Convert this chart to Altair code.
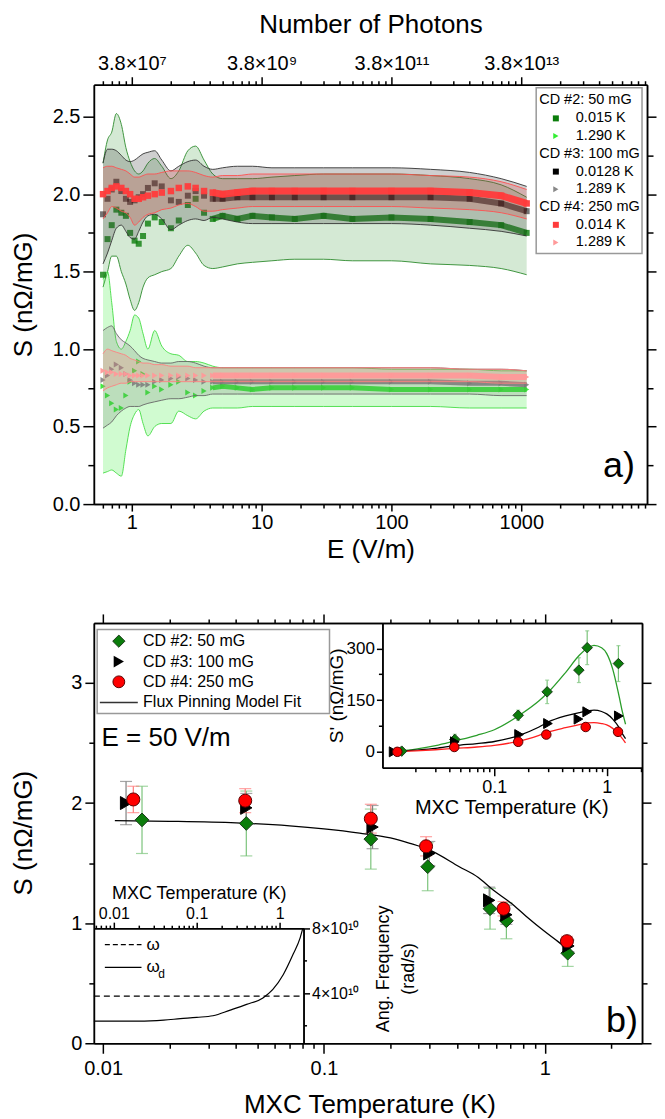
import altair as alt
import pandas as pd

FONT = "Liberation Sans"

# ------------------------------------------------------------------ panel a) data
E_GRID = [0.6, 0.65, 0.7, 0.76, 0.83, 0.9, 0.97, 1.05, 1.13, 1.22, 1.33, 1.5, 1.7, 2.0, 2.3, 2.7,
          3.1, 3.6, 4.2, 5.0, 6.5, 8.5, 12, 18, 30, 50, 100, 200, 400, 700, 1100]

# CD #2 0.015 K
A_MEAN = [1.48, 1.71, 1.80, 1.90, 1.88, 1.86, 1.75, 1.70, 1.68, 1.73, 1.81, 1.85, 1.82, 1.78, 1.83, 1.93,
          1.97, 1.88, 1.84, 1.86, 1.84, 1.86, 1.85, 1.84, 1.86, 1.84, 1.85, 1.84, 1.82, 1.80, 1.75]
A_HI = [2.20, 2.35, 2.40, 2.52, 2.45, 2.30, 2.21, 2.15, 2.13, 2.15, 2.20, 2.23, 2.18, 2.10, 2.15, 2.28,
        2.31, 2.22, 2.13, 2.10, 2.10, 2.10, 2.11, 2.12, 2.13, 2.13, 2.13, 2.12, 2.10, 2.06, 1.98]
A_LO = [1.40, 1.50, 1.60, 1.60, 1.50, 1.42, 1.32, 1.25, 1.30, 1.40, 1.46, 1.48, 1.50, 1.52, 1.60, 1.67,
        1.62, 1.54, 1.52, 1.53, 1.55, 1.56, 1.57, 1.58, 1.58, 1.57, 1.57, 1.55, 1.54, 1.52, 1.48]
# CD #3 0.0128 K
B_MEAN = [1.87, 1.97, 2.03, 2.08, 2.02, 1.97, 1.95, 1.96, 1.98, 2.00, 2.04, 2.07, 2.05, 1.96, 1.95, 1.99,
          2.02, 1.99, 1.97, 1.97, 1.98, 1.98, 1.98, 1.98, 1.98, 1.98, 1.98, 1.98, 1.97, 1.94, 1.89]
B_HI = [2.20, 2.29, 2.29, 2.28, 2.25, 2.22, 2.21, 2.22, 2.24, 2.26, 2.27, 2.28, 2.22, 2.15, 2.18, 2.21,
        2.22, 2.18, 2.16, 2.17, 2.18, 2.18, 2.17, 2.17, 2.17, 2.17, 2.17, 2.16, 2.14, 2.10, 2.05]
B_LO = [1.55, 1.62, 1.70, 1.78, 1.80, 1.76, 1.72, 1.71, 1.76, 1.82, 1.86, 1.87, 1.84, 1.77, 1.80, 1.83,
        1.84, 1.83, 1.85, 1.84, 1.82, 1.81, 1.81, 1.81, 1.81, 1.81, 1.81, 1.80, 1.78, 1.76, 1.73]
# CD #4 0.014 K
C_MEAN = [2.00, 2.02, 2.04, 2.05, 2.04, 2.02, 2.00, 1.97, 1.97, 1.98, 1.99, 2.00, 2.01, 2.02, 2.04, 2.05,
          2.04, 2.02, 2.01, 2.00, 2.01, 2.02, 2.02, 2.02, 2.02, 2.02, 2.02, 2.02, 2.01, 1.99, 1.94]
C_HI = [2.17, 2.18, 2.18, 2.17, 2.16, 2.15, 2.13, 2.11, 2.11, 2.12, 2.13, 2.13, 2.14, 2.15, 2.15, 2.15,
        2.14, 2.12, 2.11, 2.12, 2.12, 2.13, 2.13, 2.13, 2.13, 2.13, 2.13, 2.12, 2.11, 2.08, 2.03]
C_LO = [1.84, 1.88, 1.92, 1.91, 1.89, 1.88, 1.85, 1.80, 1.82, 1.85, 1.87, 1.88, 1.90, 1.91, 1.93, 1.94,
        1.92, 1.89, 1.89, 1.90, 1.91, 1.92, 1.92, 1.92, 1.92, 1.92, 1.92, 1.91, 1.90, 1.88, 1.84]
# CD #2 1.290 K
D_MEAN = [0.76, 0.70, 0.65, 0.61, 0.62, 0.70, 0.79, 0.86, 0.92, 0.84, 0.72, 0.76, 0.74, 0.77, 0.79, 0.72,
          0.70, 0.73, 0.75, 0.76, 0.75, 0.74, 0.75, 0.75, 0.75, 0.75, 0.74, 0.74, 0.74, 0.74, 0.74]
D_HI = [1.45, 1.50, 1.30, 1.05, 1.00, 1.05, 1.12, 1.22, 1.20, 1.10, 1.00, 1.12, 1.02, 0.97, 0.96, 0.92,
        0.92, 0.91, 0.89, 0.88, 0.88, 0.88, 0.88, 0.88, 0.88, 0.88, 0.87, 0.87, 0.87, 0.86, 0.86]
D_LO = [0.20, 0.21, 0.22, 0.20, 0.18, 0.35, 0.50, 0.58, 0.61, 0.52, 0.44, 0.50, 0.52, 0.52, 0.60, 0.57,
        0.55, 0.60, 0.62, 0.62, 0.62, 0.63, 0.63, 0.63, 0.63, 0.63, 0.63, 0.63, 0.62, 0.62, 0.62]
# CD #3 1.289 K
E_MEAN = [0.80, 0.83, 0.87, 0.90, 0.88, 0.84, 0.80, 0.78, 0.77, 0.77, 0.77, 0.79, 0.80, 0.81, 0.82, 0.81,
          0.80, 0.79, 0.79, 0.79, 0.79, 0.79, 0.79, 0.79, 0.79, 0.79, 0.79, 0.79, 0.78, 0.78, 0.77]
E_HI = [1.12, 1.14, 1.15, 1.10, 1.06, 1.04, 1.02, 0.99, 0.96, 0.94, 0.93, 0.92, 0.91, 0.91, 0.92, 0.92,
        0.91, 0.89, 0.88, 0.88, 0.88, 0.88, 0.88, 0.88, 0.88, 0.88, 0.88, 0.88, 0.87, 0.87, 0.86]
E_LO = [0.49, 0.51, 0.53, 0.57, 0.60, 0.62, 0.63, 0.63, 0.63, 0.64, 0.65, 0.66, 0.67, 0.68, 0.68, 0.69,
        0.70, 0.70, 0.71, 0.71, 0.71, 0.71, 0.71, 0.71, 0.71, 0.71, 0.71, 0.71, 0.71, 0.70, 0.70]
# CD #4 1.289 K
F_MEAN = [0.86, 0.85, 0.85, 0.84, 0.84, 0.84, 0.83, 0.83, 0.83, 0.83, 0.83, 0.83, 0.83, 0.83, 0.83, 0.83,
          0.83, 0.83, 0.83, 0.83, 0.83, 0.83, 0.83, 0.83, 0.83, 0.83, 0.83, 0.83, 0.83, 0.82, 0.82]
F_HI = [0.97, 1.00, 0.99, 0.98, 0.97, 0.96, 0.94, 0.93, 0.92, 0.91, 0.91, 0.90, 0.90, 0.89, 0.89, 0.89,
        0.88, 0.88, 0.88, 0.88, 0.88, 0.88, 0.88, 0.88, 0.88, 0.88, 0.88, 0.88, 0.87, 0.87, 0.86]
F_LO = [0.73, 0.75, 0.76, 0.77, 0.78, 0.78, 0.79, 0.79, 0.79, 0.79, 0.79, 0.79, 0.79, 0.79, 0.79, 0.79,
        0.79, 0.79, 0.79, 0.79, 0.79, 0.79, 0.79, 0.79, 0.79, 0.79, 0.79, 0.79, 0.79, 0.78, 0.78]

E_MAJOR = [1, 10, 100, 1000]
E_MINOR = [0.6, 0.7, 0.8, 0.9, 2, 3, 4, 5, 6, 7, 8, 9, 20, 30, 40, 50, 60, 70, 80, 90,
           200, 300, 400, 500, 600, 700, 800, 900, 2000, 3000, 4000, 5000, 6000, 7000, 8000, 9000]
S_MAJOR_A = [0, 0.5, 1.0, 1.5, 2.0, 2.5]
S_MINOR_A = [0.25, 0.75, 1.25, 1.75, 2.25]

# ------------------------------------------------------------------ panel b) data
T_CD2 = [0.0150, 0.0445, 0.163, 0.295, 0.565, 0.67, 1.27]
S_CD2 = [1.86, 1.83, 1.70, 1.47, 1.12, 1.02, 0.75]
ERR_CD2 = [0.28, 0.27, 0.25, 0.20, 0.17, 0.15, 0.11]
SP_CD2 = [2, 36, 106, 174, 237, 302, 256]
SPERR_CD2 = [6, 15, 15, 34, 36, 49, 52]

T_CD3 = [0.0127, 0.0445, 0.166, 0.30, 0.56, 0.67, 1.28]
S_CD3 = [2.00, 1.96, 1.80, 1.58, 1.19, 1.07, 0.81]
ERR_CD3 = [0.18, 0.12, 0.18, 0.10, 0.11, 0.08, 0.05]
SP_CD3 = [0, 29, 50, 82, 95, 116, 104]

T_CD4 = [0.0137, 0.0440, 0.163, 0.29, 0.65, 1.26]
S_CD4 = [2.03, 2.02, 1.87, 1.64, 1.12, 0.85]
ERR_CD4 = [0.11, 0.10, 0.12, 0.08, 0.06, 0.04]
SP_CD4 = [0, 14, 29, 50, 72, 58]

FIT_T = [0.0113, 0.02, 0.04, 0.07, 0.1, 0.145, 0.2, 0.245, 0.3, 0.41, 0.5, 0.58, 0.7, 0.82, 1.0, 1.16, 1.27]
FIT_S = [1.853, 1.848, 1.835, 1.81, 1.785, 1.75, 1.71, 1.665, 1.61, 1.47, 1.38, 1.28, 1.17, 1.06, 0.93, 0.84, 0.78]

FIT_TI = [0.012, 0.02, 0.03, 0.045, 0.07, 0.1, 0.167, 0.25, 0.3, 0.43, 0.57, 0.68, 0.77, 0.9, 1.0, 1.13, 1.29, 1.38, 1.47]
FIT_G = [0, 8, 18, 32, 48, 64, 106, 148, 172, 230, 280, 302, 309, 302, 285, 240, 160, 115, 80]
FIT_K = [0, 5, 10, 18, 24, 30, 48, 72, 86, 104, 114, 119, 121, 117, 110, 95, 70, 52, 38]
FIT_R = [0, 3, 6, 10, 14, 19, 31, 48, 57, 70, 79, 84, 85, 82, 78, 68, 50, 38, 26]

W_T = [0.00574, 0.02, 0.04, 0.0636, 0.1, 0.157, 0.254, 0.40, 0.63, 0.83, 1.11, 1.46, 1.77, 1.91]
W_D = [2.27e10, 2.27e10, 2.33e10, 2.42e10, 2.50e10, 2.60e10, 2.95e10, 3.30e10, 3.70e10, 4.22e10,
       5.14e10, 6.40e10, 7.40e10, 8.00e10]
OMEGA_T = [0.00574, 1.946]
OMEGA = [3.81e10, 3.81e10]

T_MAJOR = [0.01, 0.1, 1]
T_MINOR = [0.02, 0.03, 0.04, 0.05, 0.06, 0.07, 0.08, 0.09, 0.2, 0.3, 0.4, 0.5, 0.6, 0.7, 0.8, 0.9, 2]

# ------------------------------------------------------------------ geometry
WA, HA = 554, 420
WB, HB = 549, 421

dummy = pd.DataFrame({"x": [1.0], "y": [1.0]})


def lg(dom, rng):
    return alt.Scale(type="log", domain=dom, range=rng, nice=False)


def ln(dom, rng):
    return alt.Scale(type="linear", domain=dom, range=rng, nice=False, zero=False)


XA = lambda: lg([0.51, 9300], [0, WA])
YA = lambda: ln([0, 2.706], [HA, 0])
XB = lambda: lg([0.00908, 2.756], [0, WB])
YB = lambda: ln([0, 3.5], [HB, 0])
XI1 = lambda: lg([0.0101, 2.06], [289, 549])
YI1 = lambda: ln([-46, 374], [145, 0])
XI2 = lambda: lg([0.00574, 1.946], [0, 210])
YI2 = lambda: ln([0.905e10, 8e10], [421, 305.7])


def axis_layer(xs, ys, xaxis=None, yaxis=None):
    return alt.Chart(dummy).mark_point(opacity=0, size=1).encode(
        x=alt.X("x:Q", scale=xs, axis=xaxis),
        y=alt.Y("y:Q", scale=ys, axis=yaxis),
    )


def txt(s, x, y, size, align="left", baseline="middle", color="black"):
    return alt.Chart(dummy).mark_text(text=s, align=align, baseline=baseline, fontSize=size,
                                      font=FONT, color=color).encode(x=alt.value(x), y=alt.value(y))


def sym(shape, x, y, size, fill, stroke=None, sw=0.0):
    kw = dict(shape=shape, filled=True, size=size, fill=fill, opacity=1)
    if stroke:
        kw.update(stroke=stroke, strokeWidth=sw)
    return alt.Chart(dummy).mark_point(**kw).encode(x=alt.value(x), y=alt.value(y))


# ------------------------------------------------------------------ panel a)
def series(mean, lo, hi, fill, fop, edge, mcol, mop, shape, msize, lw):
    df = pd.DataFrame({"E": E_GRID, "m": mean, "lo": lo, "hi": hi})
    base = alt.Chart(df)
    band = base.mark_area(color=fill, opacity=fop, interpolate="monotone").encode(
        x=alt.X("E:Q", scale=XA(), axis=None), y=alt.Y("lo:Q", scale=YA(), axis=None), y2="hi:Q")
    up = base.mark_line(color=edge, strokeWidth=0.9, interpolate="monotone").encode(
        x=alt.X("E:Q", scale=XA(), axis=None), y=alt.Y("hi:Q", scale=YA(), axis=None))
    dn = base.mark_line(color=edge, strokeWidth=0.9, interpolate="monotone").encode(
        x=alt.X("E:Q", scale=XA(), axis=None), y=alt.Y("lo:Q", scale=YA(), axis=None))
    line = base.transform_filter("datum.E >= 4").mark_line(color=mcol, opacity=mop, strokeWidth=lw).encode(
        x=alt.X("E:Q", scale=XA(), axis=None), y=alt.Y("m:Q", scale=YA(), axis=None))
    pts = base.mark_point(shape=shape, filled=True, size=msize, color=mcol, opacity=mop).encode(
        x=alt.X("E:Q", scale=XA(), axis=None), y=alt.Y("m:Q", scale=YA(), axis=None))
    return [band, up, dn], [line, pts]


sA = series(A_MEAN, A_LO, A_HI, "#3a9a3a", 0.22, "#2e8b2e", "#0b7d0b", 0.8, "square", 36, 6)
sD = series(D_MEAN, D_LO, D_HI, "#44ee44", 0.25, "#44dd44", "#2ee82e", 0.9, "triangle-right", 36, 5)
sB = series(B_MEAN, B_LO, B_HI, "#404040", 0.25, "#333333", "#000000", 0.55, "square", 36, 6)
sE = series(E_MEAN, E_LO, E_HI, "#707070", 0.2, "#666666", "#7a7a7a", 0.85, "triangle-right", 36, 5)
sC = series(C_MEAN, C_LO, C_HI, "#e04040", 0.22, "#ff5050", "#ff3b3b", 0.95, "square", 42, 7)
sF = series(F_MEAN, F_LO, F_HI, "#ff8080", 0.25, "#ff8080", "#ff9999", 0.95, "triangle-right", 36, 6)

layersA = []
for grp in [(sA, sD), (sB, sE), (sC, sF)]:
    layersA += grp[0][0] + grp[1][0] + grp[0][1] + grp[1][1]

layersA += [
    axis_layer(XA(), YA(),
               xaxis=alt.Axis(orient="bottom", values=E_MAJOR, tickSize=7, format="~g", labelFontSize=20,
                              labelPadding=1, title="E (V/m)", titleFontSize=26, titleX=WA / 2, titleY=45,
                              titleBaseline="middle", titleAlign="center"),
               yaxis=alt.Axis(orient="left", values=S_MAJOR_A, tickSize=11, format=".1f", labelFontSize=20,
                              labelPadding=3, title="S (nΩ/mG)", titleFontSize=26, titleX=-70, titleY=HA / 2,
                              titleAngle=270, titleBaseline="middle", titleAlign="center")),
    axis_layer(XA(), YA(),
               xaxis=alt.Axis(orient="bottom", values=E_MINOR, tickSize=4, labels=False, title=None),
               yaxis=alt.Axis(orient="left", values=S_MINOR_A, tickSize=6, labels=False, title=None)),
    axis_layer(XA(), YA(),
               xaxis=alt.Axis(orient="top", values=E_MAJOR, tickSize=8, labelFontSize=20, labelPadding=3,
                              labelExpr="datum.value < 5 ? '3.8×10⁷' : datum.value < 50 ? '3.8×10⁹' : "
                                        "datum.value < 500 ? '3.8×10¹¹' : '3.8×10¹³'",
                              title="Number of Photons", titleFontSize=26, titleX=WA / 2, titleY=-60,
                              titleBaseline="middle", titleAlign="center"),
               yaxis=alt.Axis(orient="right", values=S_MAJOR_A, tickSize=9, labels=False, title=None)),
    axis_layer(XA(), YA(),
               xaxis=alt.Axis(orient="top", values=E_MINOR, tickSize=4, labels=False, title=None),
               yaxis=alt.Axis(orient="right", values=S_MINOR_A, tickSize=6, labels=False, title=None)),
]

# legend of panel a)
LEG_ROWS = [15.3, 33.7, 51.3, 69.3, 87, 104.7, 122.7, 140.3, 158]
layersA.append(alt.Chart(dummy).mark_rect(fill="white", stroke="#999999", strokeWidth=1.5).encode(
    x=alt.value(443), x2=alt.value(549), y=alt.value(3), y2=alt.value(169)))
leg_items = [
    ("h", "CD #2: 50 mG", None, None),
    ("s", "0.015 K", "square", "#0b7d0b"),
    ("s", "1.290 K", "triangle-right", "#33ee33"),
    ("h", "CD #3: 100 mG", None, None),
    ("s", "0.0128 K", "square", "#000000"),
    ("s", "1.289 K", "triangle-right", "#888888"),
    ("h", "CD #4: 250 mG", None, None),
    ("s", "0.014 K", "square", "#ff3b3b"),
    ("s", "1.289 K", "triangle-right", "#ff9a9a"),
]
for (kind, label, shp, col), yy in zip(leg_items, LEG_ROWS):
    if kind == "h":
        layersA.append(txt(label, 446, yy, 14.5))
    else:
        layersA.append(sym(shp, 462.7, yy, 36, col))
        layersA.append(txt(label, 482.7, yy, 14.5))
layersA.append(txt("a)", 526, 382, 36, align="center"))

panelA = alt.layer(*layersA).properties(width=WA, height=HA).resolve_scale(x="independent", y="independent")

# ------------------------------------------------------------------ panel b)
def main_df(T, S, ERR):
    return pd.DataFrame({"T": T, "S": S, "lo": [s - e for s, e in zip(S, ERR)], "hi": [s + e for s, e in zip(S, ERR)]})


def errbars(df, xs, ys, col, cap=12, caps=True):
    out = [alt.Chart(df).mark_rule(color=col, strokeWidth=1.2).encode(
        x=alt.X("T:Q", scale=xs(), axis=None), y=alt.Y("lo:Q", scale=ys(), axis=None), y2="hi:Q")]
    if caps:
        for f in ["lo", "hi"]:
            out.append(alt.Chart(df).mark_tick(orient="horizontal", size=cap, thickness=1.2, color=col).encode(
                x=alt.X("T:Q", scale=xs(), axis=None), y=alt.Y(f + ":Q", scale=ys(), axis=None)))
    return out


def markers(df, xs, ys, field, shape, fill, size, stroke):
    return alt.Chart(df).mark_point(shape=shape, filled=True, size=size, fill=fill, stroke=stroke,
                                    strokeWidth=1, opacity=1).encode(
        x=alt.X("T:Q", scale=xs(), axis=None), y=alt.Y(field + ":Q", scale=ys(), axis=None))


d2 = main_df(T_CD2, S_CD2, ERR_CD2)
d3 = main_df(T_CD3, S_CD3, ERR_CD3)
d4 = main_df(T_CD4, S_CD4, ERR_CD4)

layersB = []
layersB += errbars(d2, XB, YB, "#7cc47c")
layersB += errbars(d3, XB, YB, "#808080")
layersB += errbars(d4, XB, YB, "#ff7b7b")
layersB.append(alt.Chart(pd.DataFrame({"T": FIT_T, "S": FIT_S})).mark_line(
    color="black", strokeWidth=1.3, interpolate="monotone").encode(
    x=alt.X("T:Q", scale=XB(), axis=None), y=alt.Y("S:Q", scale=YB(), axis=None)))
layersB.append(markers(d2, XB, YB, "S", "diamond", "#0b7d0b", 190, "#1a3a1a"))
layersB.append(markers(d3, XB, YB, "S", "triangle-right", "black", 170, "black"))
layersB.append(markers(d4, XB, YB, "S", "circle", "#ff0000", 170, "#5a0000"))

# inset 1 (S' vs T)
i2 = pd.DataFrame({"T": T_CD2, "SP": SP_CD2,
                   "lo": [s - e for s, e in zip(SP_CD2, SPERR_CD2)], "hi": [s + e for s, e in zip(SP_CD2, SPERR_CD2)]})
i3 = pd.DataFrame({"T": T_CD3, "SP": SP_CD3})
i4 = pd.DataFrame({"T": T_CD4, "SP": SP_CD4})
fit_i = pd.DataFrame({"T": FIT_TI, "G": FIT_G, "K": FIT_K, "R": FIT_R})
layersB += errbars(i2, XI1, YI1, "#7cc47c", cap=4, caps=True)
for fld, col in [("G", "#2a9d2a"), ("K", "black"), ("R", "#ff2020")]:
    layersB.append(alt.Chart(fit_i).mark_line(color=col, strokeWidth=1.3, interpolate="monotone").encode(
        x=alt.X("T:Q", scale=XI1(), axis=None), y=alt.Y(fld + ":Q", scale=YI1(), axis=None)))
layersB.append(markers(i2, XI1, YI1, "SP", "diamond", "#0b7d0b", 110, "#1a3a1a"))
layersB.append(markers(i3, XI1, YI1, "SP", "triangle-right", "black", 100, "black"))
layersB.append(markers(i4, XI1, YI1, "SP", "circle", "#ff0000", 90, "#5a0000"))

# inset 2 (angular frequency)
layersB.append(alt.Chart(pd.DataFrame({"T": OMEGA_T, "w": OMEGA})).mark_line(
    color="black", strokeWidth=1.2, strokeDash=[6, 4]).encode(
    x=alt.X("T:Q", scale=XI2(), axis=None), y=alt.Y("w:Q", scale=YI2(), axis=None)))
layersB.append(alt.Chart(pd.DataFrame({"T": W_T, "w": W_D})).mark_line(
    color="black", strokeWidth=1.2, interpolate="monotone").encode(
    x=alt.X("T:Q", scale=XI2(), axis=None), y=alt.Y("w:Q", scale=YI2(), axis=None)))

# axes of panel b)
layersB += [
    axis_layer(XB(), YB(),
               xaxis=alt.Axis(orient="bottom", values=T_MAJOR, tickSize=10, format="~g", labelFontSize=20,
                              labelPadding=5, title="MXC Temperature (K)", titleFontSize=26, titleX=276,
                              titleY=61, titleBaseline="middle", titleAlign="center"),
               yaxis=alt.Axis(orient="left", values=[0, 1, 2, 3], tickSize=9, format="d", labelFontSize=20,
                              labelPadding=3, title="S (nΩ/mG)", titleFontSize=26, titleX=-70, titleY=210,
                              titleAngle=270, titleBaseline="middle", titleAlign="center")),
    axis_layer(XB(), YB(),
               xaxis=alt.Axis(orient="bottom", values=T_MINOR, tickSize=5, labels=False, title=None),
               yaxis=alt.Axis(orient="left", values=[0.5, 1.5, 2.5], tickSize=5, labels=False, title=None)),
    axis_layer(XB(), YB(),
               xaxis=alt.Axis(orient="top", values=T_MAJOR, tickSize=9, labels=False, title=None),
               yaxis=alt.Axis(orient="right", values=[0, 1, 2, 3], tickSize=9, labels=False, title=None)),
    axis_layer(XB(), YB(),
               xaxis=alt.Axis(orient="top", values=T_MINOR, tickSize=4, labels=False, title=None),
               yaxis=alt.Axis(orient="right", values=[0.5, 1.5, 2.5], tickSize=5, labels=False, title=None)),
    # inset 1 axes
    axis_layer(XI1(), YI1(),
               xaxis=alt.Axis(orient="bottom", offset=-276, values=[0.1, 1], tickSize=8, format="~g",
                              labelFontSize=18, labelPadding=3, title="MXC Temperature (K)", titleFontSize=20,
                              titleX=418, titleY=40, titleBaseline="middle", titleAlign="center"),
               yaxis=alt.Axis(orient="left", offset=-289, values=[0, 150, 300], tickSize=6, format="d",
                              labelFontSize=17, labelPadding=2, title="S' (nΩ/mG)", titleFontSize=19,
                              titleX=-46, titleY=72.5, titleAngle=270, titleBaseline="middle",
                              titleAlign="center")),
    axis_layer(XI1(), YI1(),
               xaxis=alt.Axis(orient="bottom", offset=-276, values=T_MINOR, tickSize=4, labels=False, title=None),
               yaxis=alt.Axis(orient="left", offset=-289, values=[75, 225], tickSize=4, labels=False, title=None)),
    # inset 2 axes
    axis_layer(XI2(), YI2(),
               xaxis=alt.Axis(orient="top", offset=-305.7, values=T_MAJOR, tickSize=6, format="~g",
                              labelFontSize=16, labelPadding=1, title="MXC Temperature (K)", titleFontSize=18,
                              titleX=105, titleY=-35, titleBaseline="middle", titleAlign="center"),
               yaxis=alt.Axis(orient="right", offset=-339, values=[4e10, 8e10], tickSize=6, labelFontSize=16,
                              labelPadding=2, labelExpr="datum.value > 6e10 ? '8×10¹⁰' : '4×10¹⁰'",
                              title=["Ang. Frequency", "(rad/s)"], titleFontSize=18, titleLineHeight=25,
                              titleX=80, titleY=346, titleAngle=270, titleBaseline="middle",
                              titleAlign="center")),
    axis_layer(XI2(), YI2(),
               xaxis=alt.Axis(orient="top", offset=-305.7, values=[0.006, 0.007, 0.008, 0.009] + T_MINOR[:-1],
                              tickSize=3, labels=False, title=None),
               yaxis=alt.Axis(orient="right", offset=-339, values=[2e10, 6e10], tickSize=3, labels=False,
                              title=None)),
]

# legend of panel b)
layersB.append(alt.Chart(dummy).mark_rect(fill="white", stroke="#999999", strokeWidth=1.5).encode(
    x=alt.value(3.3), x2=alt.value(236), y=alt.value(6.7), y2=alt.value(90.7)))
layersB.append(sym("diamond", 25, 18.3, 150, "#0b7d0b", "#1a3a1a", 1))
layersB.append(sym("triangle-right", 25, 38.7, 140, "black"))
layersB.append(sym("circle", 25, 59, 140, "#ff0000", "#5a0000", 1))
layersB.append(alt.Chart(dummy).mark_rule(color="#333333", strokeWidth=1.3).encode(
    x=alt.value(6), x2=alt.value(44), y=alt.value(79.7)))
for lab, yy in zip(["CD #2: 50 mG", "CD #3: 100 mG", "CD #4: 250 mG", "Flux Pinning Model Fit"],
                   [18.3, 38.7, 59, 79.7]):
    layersB.append(txt(lab, 49.3, yy, 16))
layersB.append(txt("E = 50 V/m", 7.7, 115, 26))
layersB.append(txt("b)", 529, 399, 36, align="center"))
# legend of inset 2
layersB.append(alt.Chart(dummy).mark_rule(color="black", strokeWidth=1.2, strokeDash=[5, 3]).encode(
    x=alt.value(11), x2=alt.value(47.7), y=alt.value(322.3)))
layersB.append(alt.Chart(dummy).mark_rule(color="black", strokeWidth=1.2).encode(
    x=alt.value(11), x2=alt.value(47.7), y=alt.value(345)))
layersB.append(txt("ω", 52.7, 322.3, 17))
layersB.append(txt("ω", 52.7, 345, 17))
layersB.append(txt("d", 64.5, 352, 12))

panelB = alt.layer(*layersB).properties(width=WB, height=HB).resolve_scale(x="independent", y="independent")

chart = alt.vconcat(panelA, panelB, spacing=51).properties(
    padding={"left": 3, "top": 3, "right": 0, "bottom": 0}
).configure_view(stroke=None).configure_axis(
    labelFont=FONT, titleFont=FONT, titleFontWeight="normal", labelColor="black", titleColor="black",
    grid=False, domainColor="black", tickColor="black", domainWidth=1.5, tickWidth=1.5,
    labelOverlap=False, labelFlush=False, labelBound=False,
)

chart.save("out.html", embed_options={"renderer": "svg", "actions": False})
